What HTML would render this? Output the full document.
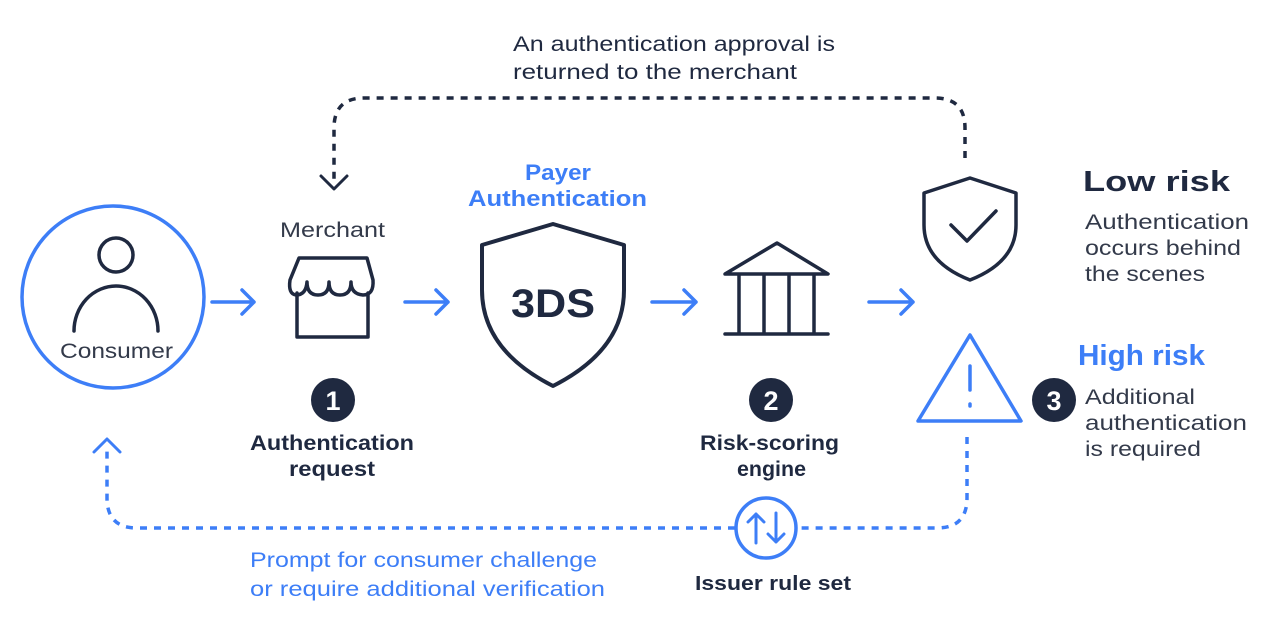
<!DOCTYPE html>
<html><head><meta charset="utf-8"><style>
html,body{margin:0;padding:0;background:#fff;}
svg{display:block;}
text{font-family:"Liberation Sans",sans-serif;}
</style></head><body>
<svg width="1287" height="636" viewBox="0 0 1287 636" xmlns="http://www.w3.org/2000/svg">
<g fill="none" stroke-linecap="round" stroke-linejoin="round">
<path d="M965 158 V128 Q965 98 935 98 H364 Q334 98 334 128 V184" stroke="#1f2940" stroke-width="3.5" stroke-dasharray="7 7" stroke-linecap="butt"/>
<path d="M321 176 L334 189 L347 176" stroke="#1f2940" stroke-width="3"/>
<path d="M967 437 V498 Q967 528 937 528 H797 M735 528 H137 Q107 528 107 498 V450" stroke="#3d7ef7" stroke-width="3.5" stroke-dasharray="7 7" stroke-linecap="butt"/>
<path d="M94 452 L107 439 L120 452" stroke="#3d7ef7" stroke-width="3"/>
<circle cx="766" cy="528" r="30" stroke="#3d7ef7" stroke-width="3.5"/>
<path d="M756 543 V514 M748 522 L756 514 L764 522 M776 513 V542 M768 534 L776 542 L784 534" stroke="#3d7ef7" stroke-width="3"/>
<circle cx="113" cy="297" r="91" stroke="#3d7ef7" stroke-width="3.5"/>
<circle cx="116" cy="255" r="17" stroke="#1f2940" stroke-width="3.5"/>
<path d="M74 331 A42 45 0 0 1 158 331" stroke="#1f2940" stroke-width="3.5"/>
<path d="M212 302 H254 M242 290 L254 302 L242 314" stroke="#3d7ef7" stroke-width="3.5"/>
<path d="M405 302 H448 M436 290 L448 302 L436 314" stroke="#3d7ef7" stroke-width="3.5"/>
<path d="M652 302 H696 M684 290 L696 302 L684 314" stroke="#3d7ef7" stroke-width="3.5"/>
<path d="M869 302 H913 M901 290 L913 302 L901 314" stroke="#3d7ef7" stroke-width="3.5"/>
<path d="M299 258 H367 L373 280 Q374 295 363 295 Q351 294 351 282 Q351 295 340 295 Q329 295 329 282 Q329 295 318 295 Q307 295 307 282 Q306 295 296 295 Q288 294 290 280 Z" stroke="#1f2940" stroke-width="3.5"/>
<path d="M297 293 V337 H368 V293" stroke="#1f2940" stroke-width="3.5"/>
<path d="M553 224 L624 245 V290 Q624 350 553 386 Q482 350 482 290 V245 Z" stroke="#1f2940" stroke-width="4"/>
<path d="M725 274 L777 243 L828 274 Z M725 334 H828 M739 274 V334 M764 274 V334 M789 274 V334 M814 274 V334" stroke="#1f2940" stroke-width="3.5"/>
<path d="M970 178 L1016 193 V225 Q1016 262 970 280 Q924 262 924 225 V193 Z" stroke="#1f2940" stroke-width="3.5"/>
<path d="M951 225 L967 241 L996 211" stroke="#1f2940" stroke-width="3.5"/>
<path d="M970 335 L1021 421 H918 Z" stroke="#3d7ef7" stroke-width="3.5"/>
<path d="M970 366 V390 M970 404 V406" stroke="#3d7ef7" stroke-width="3.5"/>
</g>
<circle cx="333" cy="400" r="22" fill="#1f2940"/>
<circle cx="771" cy="400" r="22" fill="#1f2940"/>
<circle cx="1054" cy="400" r="22" fill="#1f2940"/>
<g fill="#fff" font-weight="bold" font-size="27" text-anchor="middle">
<text x="333" y="410">1</text><text x="771" y="410">2</text><text x="1054" y="410">3</text>
</g>
<g fill="#1f2940">
<text x="513" y="51" font-size="21" textLength="322" lengthAdjust="spacingAndGlyphs">An authentication approval is</text>
<text x="513" y="79" font-size="21" textLength="284" lengthAdjust="spacingAndGlyphs">returned to the merchant</text>
<text x="280" y="237" font-size="21" fill="#333a4a" textLength="105" lengthAdjust="spacingAndGlyphs">Merchant</text>
<text x="60" y="358" font-size="21" fill="#333a4a" textLength="113" lengthAdjust="spacingAndGlyphs">Consumer</text>
<text x="511" y="317" font-size="40" font-weight="bold" textLength="84" lengthAdjust="spacingAndGlyphs">3DS</text>
<text x="250" y="450" font-size="21" font-weight="bold" textLength="164" lengthAdjust="spacingAndGlyphs">Authentication</text>
<text x="289" y="476" font-size="21" font-weight="bold" textLength="86" lengthAdjust="spacingAndGlyphs">request</text>
<text x="700" y="450" font-size="21" font-weight="bold" textLength="139" lengthAdjust="spacingAndGlyphs">Risk-scoring</text>
<text x="737" y="476" font-size="21" font-weight="bold" textLength="69" lengthAdjust="spacingAndGlyphs">engine</text>
<text x="695" y="590" font-size="20" font-weight="bold" textLength="156" lengthAdjust="spacingAndGlyphs">Issuer rule set</text>
<text x="1083" y="191" font-size="29" font-weight="bold" textLength="147" lengthAdjust="spacingAndGlyphs">Low risk</text>
<text x="1085" y="229" font-size="21" fill="#333a4a" textLength="164" lengthAdjust="spacingAndGlyphs">Authentication</text>
<text x="1085" y="255" font-size="21" fill="#333a4a" textLength="156" lengthAdjust="spacingAndGlyphs">occurs behind</text>
<text x="1085" y="281" font-size="21" fill="#333a4a" textLength="120" lengthAdjust="spacingAndGlyphs">the scenes</text>
<text x="1085" y="404" font-size="21" fill="#333a4a" textLength="110" lengthAdjust="spacingAndGlyphs">Additional</text>
<text x="1085" y="430" font-size="21" fill="#333a4a" textLength="162" lengthAdjust="spacingAndGlyphs">authentication</text>
<text x="1085" y="456" font-size="21" fill="#333a4a" textLength="116" lengthAdjust="spacingAndGlyphs">is required</text>
</g>
<g fill="#3d7ef7">
<text x="525" y="180" font-size="22" font-weight="bold" textLength="66" lengthAdjust="spacingAndGlyphs">Payer</text>
<text x="468" y="206" font-size="22" font-weight="bold" textLength="179" lengthAdjust="spacingAndGlyphs">Authentication</text>
<text x="1078" y="365" font-size="29" font-weight="bold" textLength="127" lengthAdjust="spacingAndGlyphs">High risk</text>
<text x="250" y="567" font-size="21" textLength="347" lengthAdjust="spacingAndGlyphs">Prompt for consumer challenge</text>
<text x="250" y="596" font-size="21" textLength="355" lengthAdjust="spacingAndGlyphs">or require additional verification</text>
</g>
</svg>
</body></html>
